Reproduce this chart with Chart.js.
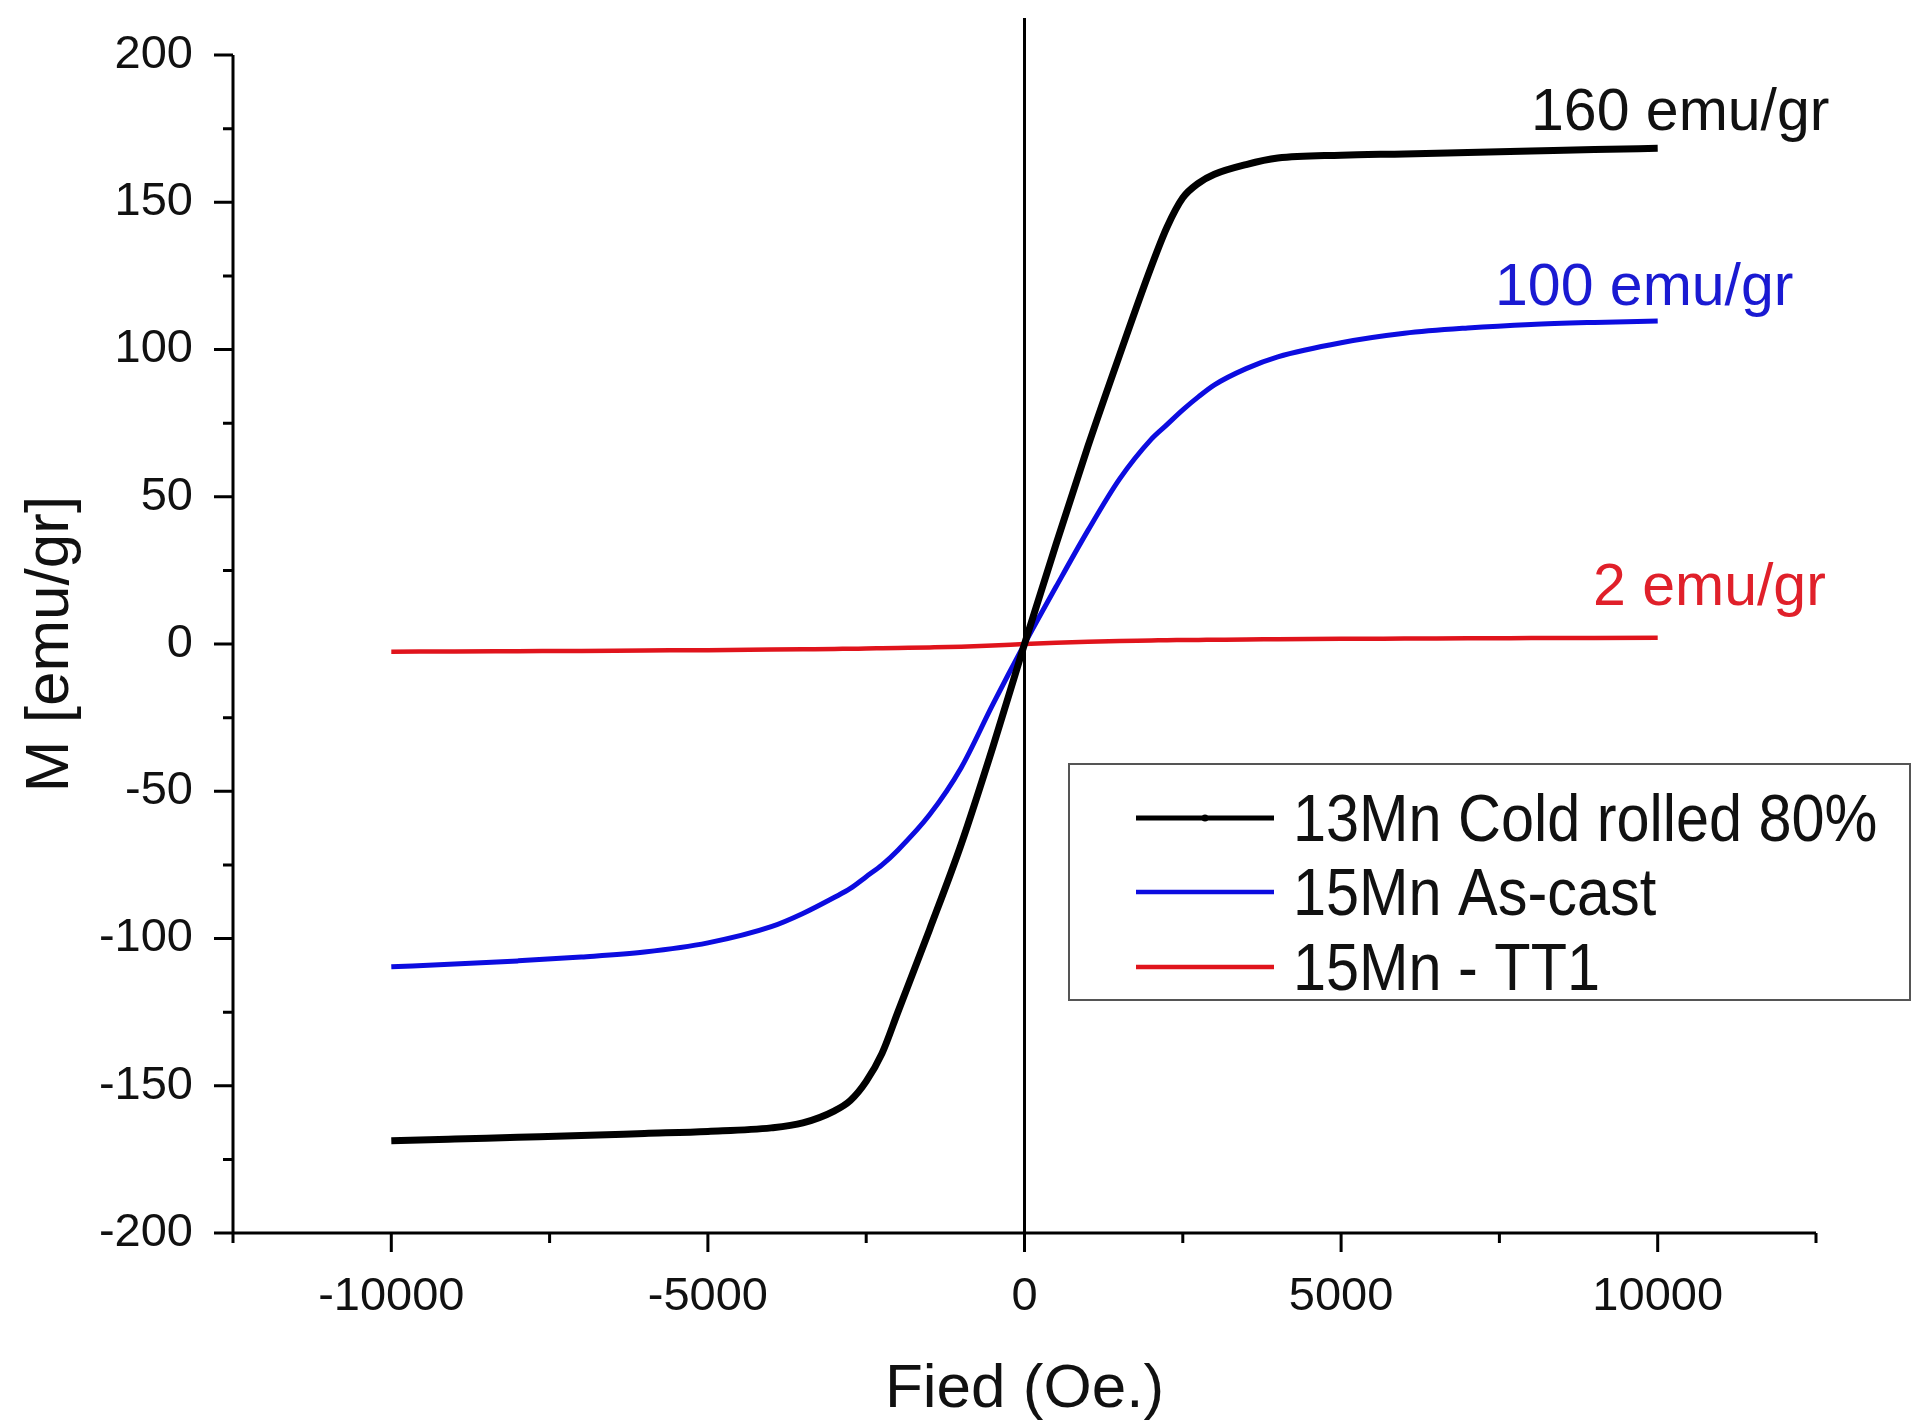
<!DOCTYPE html>
<html>
<head>
<meta charset="utf-8">
<title>Magnetisation curves</title>
<script src="https://cdn.jsdelivr.net/npm/chart.js@4.4.1/dist/chart.umd.min.js"></script>
<style>
  html, body { margin: 0; padding: 0; background: #fff; }
  canvas { display: block; }
</style>
</head>
<body>
<canvas id="magChart" width="1911" height="1424"></canvas>
<script>
// Field sweep (Oe) and magnetisation (emu/gr)
const fieldOe = [-10000, -9000, -8000, -7000, -6000, -5000, -4000, -3500, -3000, -2750, -2500, -2250, -2000, -1500, -1000, -500,
  0, 500, 1000, 1500, 2000, 2250, 2500, 2750, 3000, 3500, 4000, 5000, 6000, 7000, 8000, 9000, 10000];

const coldRolled13Mn = [-168.7, -168.1, -167.5, -166.9, -166.2, -165.5, -164.3, -162.6, -158.5, -155, -148.5, -139, -125, -97, -68, -35,
  0, 34, 67, 98, 128, 141.5, 151.5, 156.5, 159.5, 162.8, 165, 166, 166.4, 166.9, 167.4, 167.9, 168.3];

const asCast15Mn = [-109.6, -108.7, -107.6, -106.3, -104.6, -101.5, -96, -91.5, -86, -83, -79, -75, -70, -58, -42, -20.5,
  0, 19.5, 38.5, 56, 69.5, 74.5, 79.5, 84, 88, 93.5, 97.5, 102.3, 105.5, 107.3, 108.5, 109.2, 109.7];

const tt1_15Mn = [-2.6, -2.55, -2.45, -2.35, -2.2, -2.1, -1.9, -1.8, -1.7, -1.6, -1.55, -1.45, -1.35, -1.15, -0.9, -0.5,
  0, 0.45, 0.8, 1.05, 1.2, 1.3, 1.35, 1.4, 1.45, 1.55, 1.6, 1.75, 1.85, 1.95, 2.0, 2.05, 2.1];

const seriesLabels = ["13Mn Cold rolled 80%", "15Mn As-cast", "15Mn - TT1"];
const seriesColors = ["#000000", "#0c0ce0", "#e0141c"];
const seriesWidths = [7, 5, 4.5];

// labelled ticks (minor ticks sit between them)
const xTickLabels = [-10000, -5000, 0, 5000, 10000];
const yTickLabels = [-200, -150, -100, -50, 0, 50, 100, 150, 200];

// saturation notes written next to the curves
const noteTexts = ["160 emu/gr", "100 emu/gr", "2 emu/gr"];

const FONT = "'Liberation Sans', Arial, Helvetica, sans-serif";

function toPoints(ys) {
  return fieldOe.map((x, i) => ({ x: x, y: ys[i] }));
}

// axes, tick marks, zero line, legend box and notes
const decor = {
  id: "decor",
  beforeDatasetsDraw(chart) {
    const ctx = chart.ctx;
    const area = chart.chartArea;
    const x0 = chart.scales.x.getPixelForValue(0);
    ctx.save();
    ctx.strokeStyle = "#000";
    ctx.lineWidth = 3;
    ctx.beginPath();
    ctx.moveTo(x0, area.top - 37);
    ctx.lineTo(x0, area.bottom);
    ctx.stroke();
    ctx.restore();
  },
  afterDatasetsDraw(chart) {
    const ctx = chart.ctx;
    const area = chart.chartArea;
    const xs = chart.scales.x;
    const ys = chart.scales.y;
    ctx.save();
    ctx.strokeStyle = "#000";
    ctx.lineWidth = 3;
    ctx.lineCap = "butt";
    ctx.beginPath();
    ctx.moveTo(area.left, area.top);
    ctx.lineTo(area.left, area.bottom);
    ctx.lineTo(area.right, area.bottom);
    xs.ticks.forEach(t => {
      const px = xs.getPixelForValue(t.value);
      const len = xTickLabels.includes(t.value) ? 19 : 10;
      ctx.moveTo(px, area.bottom);
      ctx.lineTo(px, area.bottom + len);
    });
    ys.ticks.forEach(t => {
      const py = ys.getPixelForValue(t.value);
      const len = yTickLabels.includes(t.value) ? 19 : 10;
      ctx.moveTo(area.left, py);
      ctx.lineTo(area.left - len, py);
    });
    ctx.stroke();
    ctx.restore();
  },
  afterDraw(chart) {
    const ctx = chart.ctx;
    ctx.save();

    // legend
    ctx.fillStyle = "#fff";
    ctx.fillRect(1069, 764, 841, 236);
    ctx.strokeStyle = "#555";
    ctx.lineWidth = 2;
    ctx.strokeRect(1069, 764, 841, 236);
    const rowY = [818, 892, 967];
    chart.data.datasets.forEach((ds, i) => {
      ctx.strokeStyle = ds.borderColor;
      ctx.lineWidth = i === 0 ? 5 : 4.5;
      ctx.beginPath();
      ctx.moveTo(1136, rowY[i]);
      ctx.lineTo(1274, rowY[i]);
      ctx.stroke();
      if (i === 0) {
        ctx.fillStyle = "#000";
        ctx.beginPath();
        ctx.arc(1205, rowY[i], 3.5, 0, Math.PI * 2);
        ctx.fill();
      }
      // the legend face is a little narrow, so squeeze it sideways
      ctx.save();
      ctx.translate(1293, rowY[i] + 5);
      ctx.scale(0.9, 1);
      ctx.fillStyle = "#111";
      ctx.font = "66px " + FONT;
      ctx.textAlign = "left";
      ctx.textBaseline = "middle";
      ctx.fillText(ds.label, 0, 0);
      ctx.restore();
    });

    // notes
    ctx.font = "59px " + FONT;
    ctx.textBaseline = "alphabetic";
    ctx.textAlign = "left";
    const notePos = [[1531, 130], [1495, 305], [1593, 605]];
    const noteColors = ["#111", "#1a1ad2", "#e0202a"];
    noteTexts.forEach((txt, i) => {
      ctx.fillStyle = noteColors[i];
      ctx.fillText(txt, notePos[i][0], notePos[i][1]);
    });
    ctx.restore();
  }
};

new Chart(document.getElementById("magChart"), {
  type: "line",
  data: {
    datasets: [
      { label: seriesLabels[0], data: toPoints(coldRolled13Mn) },
      { label: seriesLabels[1], data: toPoints(asCast15Mn) },
      { label: seriesLabels[2], data: toPoints(tt1_15Mn) }
    ].map((ds, i) => Object.assign(ds, {
      borderColor: seriesColors[i],
      backgroundColor: seriesColors[i],
      borderWidth: seriesWidths[i],
      pointRadius: 0,
      fill: false,
      cubicInterpolationMode: "monotone"
    }))
  },
  options: {
    responsive: false,
    animation: false,
    devicePixelRatio: 1,
    layout: { padding: { top: 55, right: 95, bottom: 0, left: 0 } },
    plugins: {
      legend: { display: false },
      tooltip: { enabled: false }
    },
    scales: {
      x: {
        type: "linear",
        min: -12500,
        max: 12500,
        grid: { display: false, drawTicks: false },
        border: { display: false },
        ticks: {
          stepSize: 2500,
          autoSkip: false,
          maxRotation: 0,
          padding: 36,
          color: "#111",
          font: { family: FONT, size: 47 },
          callback: v => xTickLabels.includes(v) ? String(v) : ""
        },
        title: {
          display: true,
          text: "Fied (Oe.)",
          color: "#111",
          font: { family: FONT, size: 62, lineHeight: 1.1 },
          padding: 0
        },
        afterFit: s => { s.height = 191; s.paddingLeft = 0; s.paddingRight = 0; }
      },
      y: {
        type: "linear",
        min: -200,
        max: 200,
        grid: { display: false, drawTicks: false },
        border: { display: false },
        ticks: {
          stepSize: 25,
          autoSkip: false,
          padding: 40,
          color: "#111",
          font: { family: FONT, size: 47 },
          callback: v => yTickLabels.includes(v) ? String(v) : ""
        },
        title: {
          display: true,
          text: "M [emu/gr]",
          color: "#111",
          font: { family: FONT, size: 62, lineHeight: 1.1 },
          padding: { top: 17, bottom: 0 }
        },
        afterFit: s => { s.width = 233; s.paddingTop = 0; s.paddingBottom = 0; }
      }
    }
  },
  plugins: [decor]
});
</script>
</body>
</html>
